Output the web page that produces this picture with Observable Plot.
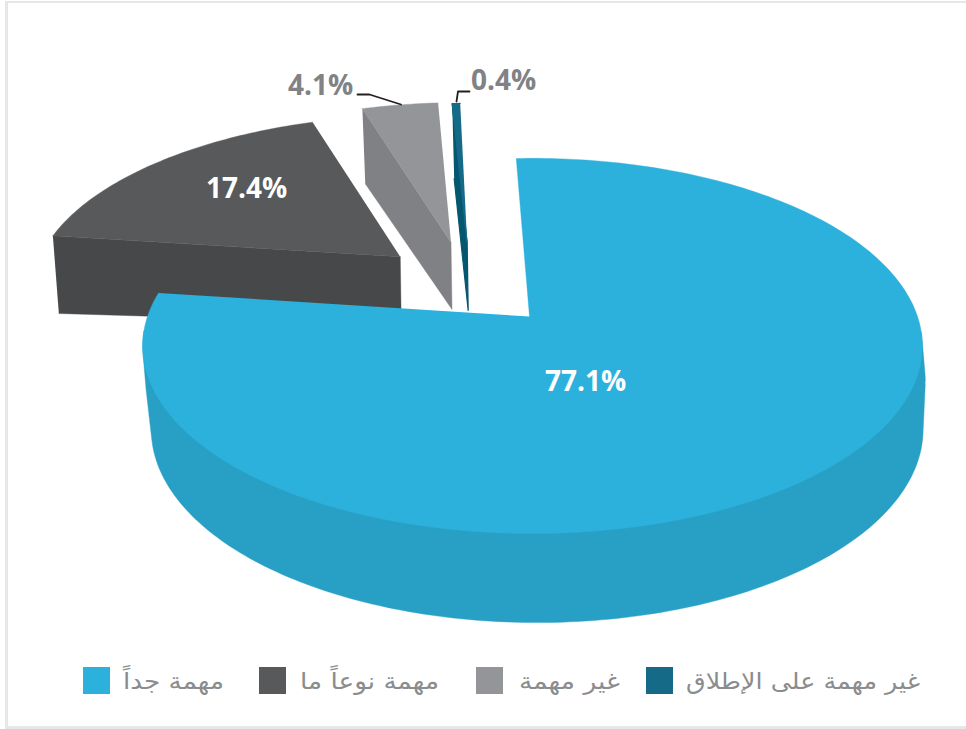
<!DOCTYPE html>
<html lang="ar">
<head>
<meta charset="utf-8">
<script src="https://cdn.jsdelivr.net/npm/d3@7"></script>
<script src="https://cdn.jsdelivr.net/npm/@observablehq/plot@0.6"></script>
<style>
html,body{margin:0;padding:0;background:#fff;}
#frame{position:relative;width:966px;height:729px;overflow:hidden;background:#fff;}
#frame svg{position:absolute;left:0;top:0;}
.border{position:absolute;left:5px;top:1px;width:961px;height:723px;border-left:3px solid #e6e7e8;border-top:2px solid #e6e7e8;border-bottom:3px solid #e6e7e8;pointer-events:none;}
.lg{position:absolute;top:667px;width:27px;height:27px;}
.lt{position:absolute;top:663px;height:36px;line-height:36px;font-family:"DejaVu Sans",sans-serif;font-size:23px;color:#8a8c8e;direction:rtl;white-space:nowrap;transform-origin:0 50%;}
</style>
</head>
<body>
<div id="frame"><div class="border"></div></div>
<script>
const categories = ["مهمة جداً", "مهمة نوعاً ما", "غير مهمة", "غير مهمة على الإطلاق"];
const shares = [77.1, 17.4, 4.1, 0.4];
const shareLabels = ["77.1%", "17.4%", "4.1%", "0.4%"];
const topColors = ["#2cb0dc", "#58595b", "#939598", "#146a87"];
const wallColors = ["#289fc4", "#47484a", "#808184", "#05566f"];

// Layout of the tilted pie
const W = 966, H = 729;
const apex = [532, 316], Rx = 385, Ry = 183, persp = 0.157;
const rotation = -2.8 * Math.PI / 180;
const explode = [[0, 0], [-0.362, 0.344], [-0.226, 0.432], [-0.181, 0.426]];
const radial = [1, 0.985, 1, 1];
const startPad = [0, 0, 1, 0].map(d => d * Math.PI / 180);
const tipNudge = [-3, 0, 0, 0];
const edgeWidth = [0.4, 0.4, 0.4, 1.2];
const labelAt = [[585, 382], [246, 189], [320, 86], [503, 81]];
const labelFill = ["#fff", "#fff", "#808285", "#808285"];
const leaders = [
  [[357, 94], [369, 94], [400.5, 104]],
  [[456, 101], [457.5, 91], [469, 91]]
];
const legendX = [[83, 123, 224], [259, 300, 439], [476, 519, 620], [646, 686, 920]];

function project(u, v) {
  const w = 1 + persp * v;
  return [apex[0] + Rx * u / w, apex[1] - Ry * v / w];
}
const drop = ([x, y]) => [0.99 * x + 10, 1.03 * y + 73];
const dropMid = ([x, y]) => [x + 3, y + 35];
const dropCut = ([x, y]) => [0.99 * x + 6.5, 1.02 * y + 73];
const dropTip = ([x, y]) => [x + 1, y + 67];

const arcs = d3.pie().sort(null).startAngle(rotation).endAngle(rotation + 2 * Math.PI)(shares);

function rim(arc, i) {
  const [ox, oy] = explode[i];
  const a0 = arc.startAngle + startPad[i];
  const n = Math.max(2, Math.ceil((arc.endAngle - a0) * 180 / Math.PI));
  return d3.range(n + 1).map(k => {
    const a = a0 + (arc.endAngle - a0) * k / n;
    return project(radial[i] * Math.sin(a) + ox, radial[i] * Math.cos(a) + oy);
  });
}
const centre = i => {
  const p = project(explode[i][0], explode[i][1]);
  return [p[0] + tipNudge[i], p[1]];
};

const poly = (points, fill, sw = 0.4) => Plot.line(points, {x: d => d[0], y: d => d[1], fill, stroke: fill, strokeWidth: sw, curve: "linear"});

const marks = [];
// the back slices first: cut face, then top face
for (const i of [2, 3, 1]) {
  const r = rim(arcs[i], i), c = centre(i);
  marks.push(poly([r[0], c, dropTip(c), dropCut(r[0])], wallColors[i], edgeWidth[i]));
  marks.push(poly([c, ...r], topColors[i], edgeWidth[i]));
}
// the large slice sits in front; only the near part of its wall can show
const r0 = rim(arcs[0], 0);
const near = r0.filter(p => p[1] > apex[1] + 14);
marks.push(poly(d3.polygonHull([...near, ...near.map(dropMid), ...near.map(drop)]), wallColors[0]));
marks.push(poly([centre(0), ...r0], topColors[0]));

// leaders and value labels
for (const l of leaders) {
  marks.push(Plot.line(l, {x: d => d[0], y: d => d[1], stroke: "#231f20", strokeWidth: 1.8, curve: "linear"}));
}
marks.push(Plot.text(shareLabels, {
  x: (d, i) => labelAt[i][0], y: (d, i) => labelAt[i][1], text: d => d,
  fill: (d, i) => labelFill[i], fontSize: 28, fontWeight: 700,
  fontFamily: "'Open Sans', sans-serif", textAnchor: "middle", lineAnchor: "middle"
}));

const chart = Plot.plot({
  width: W, height: H, margin: 0,
  x: {domain: [0, W], range: [0, W], axis: null},
  y: {domain: [0, H], range: [0, H], axis: null},
  marks
});
const frame = document.getElementById("frame");
frame.insertBefore(chart, frame.firstChild);

categories.forEach((name, i) => {
  const s = document.createElement("div");
  s.className = "lg"; s.style.left = legendX[i][0] + "px"; s.style.background = topColors[i];
  frame.appendChild(s);
  const t = document.createElement("div");
  t.className = "lt"; t.textContent = name;
  t.style.left = legendX[i][1] + "px";
  frame.appendChild(t);
  const w = t.getBoundingClientRect().width;
  t.style.transform = `scaleX(${(legendX[i][2] - legendX[i][1]) / w})`;
});
</script>
</body>
</html>
